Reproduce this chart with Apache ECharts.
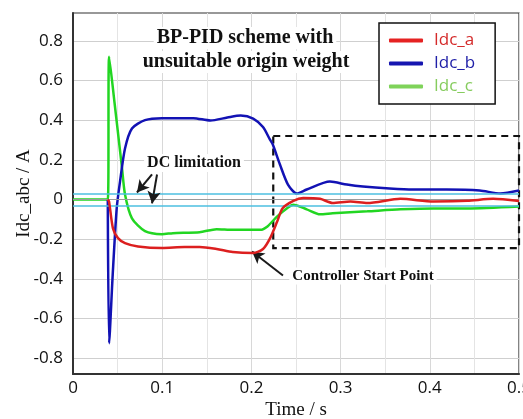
<!DOCTYPE html>
<html>
<head>
<meta charset="utf-8">
<script src="https://cdn.jsdelivr.net/npm/echarts@6/dist/echarts.min.js"></script>
<style>
  html, body { margin: 0; padding: 0; background: #fff; }
  #chart { width: 523px; height: 419px; }
</style>
</head>
<body>
<div id="chart"></div>
<script>
// Phase currents on the DC side (A) versus time (s)
const timeA = [0.039, 0.0404, 0.0448, 0.0504, 0.0583, 0.0729, 0.0998, 0.125, 0.142, 0.161, 0.179, 0.202, 0.213, 0.221, 0.229, 0.235, 0.247, 0.258, 0.277, 0.291, 0.311, 0.33, 0.367, 0.404, 0.442, 0.471, 0.5];
const idcA  = [0, -0.01, -0.146, -0.195, -0.22, -0.237, -0.245, -0.24, -0.24, -0.25, -0.265, -0.27, -0.25, -0.195, -0.11, -0.044, -0.007, 0.007, 0.003, -0.018, -0.01, -0.018, 0.003, -0.01, -0.007, 0.003, -0.008];

const timeB = [0.039, 0.0405, 0.0445, 0.049, 0.0527, 0.0583, 0.0661, 0.0807, 0.0998, 0.135, 0.154, 0.173, 0.188, 0.202, 0.213, 0.221, 0.224, 0.232, 0.241, 0.251, 0.262, 0.288, 0.307, 0.325, 0.355, 0.381, 0.419, 0.456, 0.479, 0.5];
const idcB  = [0, -0.725, -0.38, -0.045, 0.09, 0.257, 0.358, 0.40, 0.41, 0.41, 0.398, 0.413, 0.423, 0.408, 0.365, 0.30, 0.277, 0.176, 0.075, 0.03, 0.05, 0.09, 0.075, 0.065, 0.055, 0.05, 0.05, 0.045, 0.03, 0.045];

const timeC = [0, 0.039, 0.0405, 0.0465, 0.055, 0.0583, 0.0661, 0.0807, 0.0998, 0.112, 0.142, 0.161, 0.179, 0.21, 0.218, 0.229, 0.24, 0.247, 0.262, 0.277, 0.291, 0.33, 0.367, 0.404, 0.442, 0.5];
const idcC  = [0, 0, 0.72, 0.49, 0.155, 0.025, -0.095, -0.16, -0.175, -0.17, -0.165, -0.15, -0.153, -0.153, -0.136, -0.085, -0.044, -0.027, -0.05, -0.075, -0.07, -0.06, -0.05, -0.045, -0.045, -0.035];

// DC current limitation band
const dcLimit = [0.025, -0.025];

// Region after the controller starts: [t0, t1] x [low, high]
const boxTime = [0.2245, 0.5];
const boxLevel = [-0.245, 0.32];

// Annotation arrows: [[tFrom, vFrom], [tTo, vTo]]
const arrows = [
  [[0.0886, 0.126], [0.0717, 0.035]],
  [[0.0942, 0.126], [0.0886, -0.02]],
  [[0.2354, -0.383], [0.2007, -0.262]]
];

const yTicks = [-0.8, -0.6, -0.4, -0.2, 0, 0.2, 0.4, 0.6, 0.8];
const seriesNames = ['Idc_a', 'Idc_b', 'Idc_c'];

const zip = (t, v) => t.map((x, i) => [x, v[i]]);

const serif = '"Liberation Serif", "Times New Roman", serif';
const sans = '"Open Sans", "Liberation Sans", sans-serif';

const chart = echarts.init(document.getElementById('chart'));

const lineBase = {
  type: 'line',
  showSymbol: false,
  smooth: 0.25,
  clip: true
};

const note = (x, y, text, size) => ({
  type: 'text',
  z: 50,
  style: {
    x, y, text,
    align: 'center', verticalAlign: 'middle',
    font: 'bold ' + size + 'px ' + serif, fill: '#111',
    backgroundColor: '#fff', padding: [1, 3]
  }
});

chart.setOption({
  animation: false,
  backgroundColor: '#fff',
  grid: {
    left: 73, right: 4, top: 13, bottom: 45,
    outerBoundsMode: 'none',
    containLabel: false,
    show: true, borderColor: '#333', borderWidth: 1.2
  },
  legend: {
    orient: 'vertical',
    left: 379, top: 23,
    padding: [9, 20, 9, 10],
    itemGap: 6,
    itemWidth: 34, itemHeight: 4,
    icon: 'roundRect',
    backgroundColor: '#fff',
    borderColor: '#111', borderWidth: 1.5,
    textStyle: { fontFamily: sans, fontSize: 17, padding: [0, 0, 0, 6] },
    data: [
      { name: seriesNames[0], itemStyle: { color: '#e52222' }, textStyle: { color: '#d42a2a' } },
      { name: seriesNames[1], itemStyle: { color: '#1515b0' }, textStyle: { color: '#2020a8' } },
      { name: seriesNames[2], itemStyle: { color: '#7fd35a' }, textStyle: { color: '#86cc5e' } }
    ]
  },
  xAxis: {
    type: 'value',
    min: 0, max: 0.5, interval: 0.1,
    name: 'Time / s',
    nameLocation: 'middle',
    nameGap: 27,
    nameMoveOverlap: false,
    nameTextStyle: { fontFamily: serif, fontSize: 19, color: '#111' },
    axisLine: { onZero: false, lineStyle: { color: '#333', width: 2 } },
    axisTick: { show: false },
    axisLabel: {
      fontFamily: sans, fontSize: 17, color: '#111', margin: 6,
      formatter: v => (v === 0 ? '0' : String(Number(v.toFixed(1))))
    },
    splitLine: { show: true, lineStyle: { color: '#d8d8d8', width: 1 } },
    minorTick: { show: false, splitNumber: 2 },
    minorSplitLine: { show: true, lineStyle: { color: '#e4e4e4', width: 1 } }
  },
  yAxis: {
    type: 'value',
    min: -0.88, max: 0.94,
    name: 'Idc_abc / A',
    nameLocation: 'middle',
    nameGap: 39,
    nameMoveOverlap: false,
    nameTextStyle: { fontFamily: serif, fontSize: 19, color: '#111' },
    axisLine: { onZero: false, lineStyle: { color: '#333', width: 2 } },
    axisTick: { show: false, customValues: yTicks },
    axisLabel: {
      customValues: yTicks,
      fontFamily: sans, fontSize: 17, color: '#111', margin: 10,
      formatter: v => (Math.abs(v) < 1e-9 ? '0' : String(Number(v.toFixed(1))))
    },
    splitLine: { show: true, lineStyle: { color: '#cfcfcf', width: 1 } }
  },
  series: [
    Object.assign({}, lineBase, {
      name: seriesNames[2],
      data: zip(timeC, idcC),
      z: 3,
      lineStyle: { color: '#22d622', width: 2.5 },
      itemStyle: { color: '#7fd35a' },
      markLine: {
        silent: true,
        symbol: 'none',
        label: { show: false },
        data: [
          { yAxis: 0, lineStyle: { color: '#9a9a9a', width: 1, type: 'solid' } },
          { yAxis: dcLimit[0], lineStyle: { color: '#4dbfe0', width: 1.6, type: 'solid' } },
          { yAxis: dcLimit[1], lineStyle: { color: '#4dbfe0', width: 1.6, type: 'solid' } }
        ]
      }
    }),
    Object.assign({}, lineBase, {
      name: seriesNames[1],
      data: zip(timeB, idcB),
      z: 4,
      lineStyle: { color: '#1212b4', width: 2.5 },
      itemStyle: { color: '#1515b0' },
      markArea: {
        silent: true,
        itemStyle: {
          color: 'rgba(0,0,0,0)',
          borderColor: '#111', borderWidth: 2.2, borderType: [7, 5]
        },
        data: [[
          { coord: [boxTime[0], boxLevel[1]] },
          { coord: [boxTime[1], boxLevel[0]] }
        ]]
      }
    }),
    Object.assign({}, lineBase, {
      name: seriesNames[0],
      data: zip(timeA, idcA),
      z: 5,
      lineStyle: { color: '#dc1f1f', width: 2.5 },
      itemStyle: { color: '#e52222' },
      markLine: {
        silent: true,
        symbol: ['none', 'arrow'],
        symbolSize: [10, 12],
        label: { show: false },
        lineStyle: { color: '#1a1a1a', width: 2, type: 'solid' },
        data: arrows.map(a => [{ coord: a[0] }, { coord: a[1] }])
      }
    })
  ],
  graphic: [
    note(245, 38, 'BP-PID scheme with', 20),
    note(246, 62, 'unsuitable origin weight', 20),
    note(194, 163, 'DC limitation', 16),
    note(363, 276, 'Controller Start Point', 15)
  ]
});
</script>
</body>
</html>
